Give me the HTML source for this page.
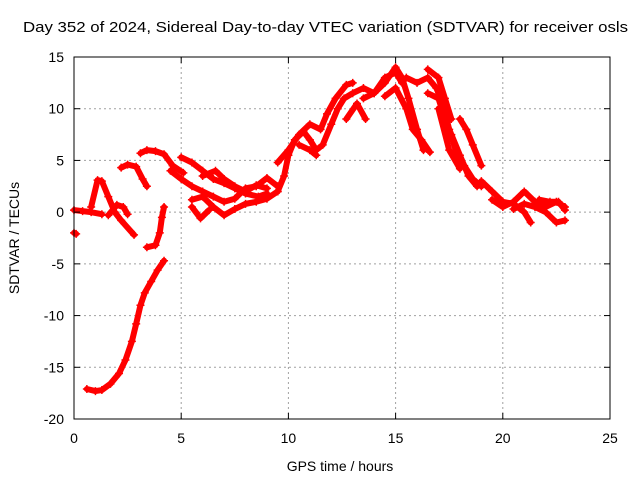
<!DOCTYPE html>
<html><head><meta charset="utf-8"><style>
html,body{margin:0;padding:0;background:#fff}
svg{display:block;font-family:"Liberation Sans",sans-serif}
</style></head><body>
<svg id="chart" width="640" height="480">
<text x="23" y="32" font-size="15" textLength="605" lengthAdjust="spacingAndGlyphs">Day 352 of 2024, Sidereal Day-to-day VTEC variation (SDTVAR) for receiver osls</text>
<text x="340" y="471" font-size="14" text-anchor="middle">GPS time / hours</text>
<text transform="translate(19,238) rotate(-90)" font-size="14" text-anchor="middle">SDTVAR / TECUs</text>
<g id="grid"></g><g id="marks"></g><g id="axes"></g>
</svg>
<script>
const xTicks=[0,5,10,15,20,25];
const yTicks=[15,10,5,0,-5,-10,-15,-20];
const tracks=[
[[0.6,-17.1],[1,-17.3],[1.3,-17.2],[1.7,-16.6],[2.1,-15.6],[2.4,-14.3],[2.7,-12.5],[2.9,-10.8],[3.1,-9],[3.3,-7.8],[3.6,-6.7],[3.9,-5.6],[4.2,-4.7]],
[[0,0.2],[0.4,0.1],[0.8,0],[1.3,-0.2]],
[[0,-2],[0.1,-2.1]],
[[0.8,0.5],[1.1,3.1],[1.3,3],[1.6,1.5],[1.9,0],[2.2,-0.8],[2.8,-2.2]],
[[1.6,-0.3],[2,0.7],[2.3,0.5],[2.5,-0.2]],
[[2.2,4.3],[2.5,4.6],[2.9,4.4],[3.2,3.2],[3.4,2.5]],
[[3.1,5.7],[3.4,6],[3.8,5.9],[4.2,5.6],[4.6,4.5],[5.1,3.8]],
[[3.4,-3.4],[3.8,-3.2],[4,-2],[4.1,-0.5],[4.2,0.5]],
[[5,5.3],[5.5,4.8],[6,4],[6.5,3.2],[7,2.8],[7.5,2.3],[8,1.8],[8.6,1.5],[9,1.8]],
[[4.5,4],[5,3.2],[5.5,2.5],[6,2],[6.5,1.5],[7,1],[7.5,1.3],[8,2.3],[8.5,2.5],[9,3.3],[9.5,2.5]],
[[5.5,1.2],[6,1.5],[6.5,0.5],[7,-0.3],[7.5,0.3],[8,0.8],[8.5,1],[9,1.3],[9.5,2]],
[[5.5,0.5],[5.9,-0.6],[6.3,0.2]],
[[6,3.5],[6.6,4],[7,3.2],[7.5,2.5],[8,2],[8.5,2.6],[9,2.3]],
[[9.5,2],[9.8,3.5],[10,5.5],[10.3,7],[10.7,7.8],[11,7],[11.3,6],[11.6,6.5],[12,8.5],[12.3,10],[12.6,11],[13,11.5],[13.5,12],[14,11.5],[14.5,12.5],[15,14],[15.3,13],[15.6,11],[16,8],[16.3,6]],
[[9.5,4.8],[10,6],[10.5,7.5],[11,8.5],[11.5,8],[11.8,9.5],[12.2,11],[12.7,12.3],[13,12.5]],
[[10.5,6.5],[11,6],[11.3,5.5]],
[[12.7,9],[13.2,10.5],[13.6,9]],
[[13.5,11],[14,11.5],[14.5,13],[15,13.5],[15.3,12.5]],
[[14.5,11.2],[15,12],[15.5,10],[15.8,8],[16.2,7],[16.6,5.8]],
[[15.5,13],[16,12.5],[16.5,13],[16.9,12],[17.2,10.5],[17.5,8],[17.8,6],[18.2,4.5],[18.6,3.2],[19,2.5]],
[[16.5,11.5],[17,11],[17.3,9],[17.6,7.5],[18,5.5],[18.4,3.5],[18.8,2.5]],
[[16.5,13.8],[17,13],[17.3,11],[17.6,9]],
[[17,10],[17.5,6],[18,4.2]],
[[18,9],[18.3,8],[18.6,6.5],[19,4.5]],
[[19,3],[19.5,2],[20,1],[20.5,0.8],[21,0],[21.3,-1]],
[[19.5,1.2],[20,0.5],[20.5,1],[21,2],[21.5,1],[22,0.5],[22.5,1],[22.9,0.5]],
[[20.5,0.3],[21,0.8],[21.5,0.5],[22,0],[22.5,-1],[22.9,-0.8]],
[[21.7,1.2],[22.2,1],[22.6,1],[22.9,0.2]]
];
const NS='http://www.w3.org/2000/svg';
const L=74,R=610,T=57,B=419;
const xs=v=>L+(v-0)/25*(R-L);
const ys=v=>B-(v+20)/35*(B-T);
function mk(tag,attrs,parent){const e=document.createElementNS(NS,tag);for(const k in attrs)e.setAttribute(k,attrs[k]);parent.appendChild(e);return e;}
const grid=document.getElementById('grid'),axes=document.getElementById('axes'),marks=document.getElementById('marks');
xTicks.forEach(t=>{
  const x=xs(t);
  if(t>0&&t<25){const g=mk('line',{x1:x,x2:x,y1:T,y2:B,stroke:'#a0a0a0','stroke-dasharray':'2,3'},grid);
  
  }
  mk('line',{x1:x,x2:x,y1:B,y2:B-6,stroke:'#000'},axes);
  mk('line',{x1:x,x2:x,y1:T,y2:T+6,stroke:'#000'},axes);
  const tx=mk('text',{x:x,y:B+24,'font-size':14,'text-anchor':'middle'},axes);tx.textContent=t;
  
  
});
yTicks.forEach(t=>{
  const y=ys(t);
  if(t<15&&t>-20){const g=mk('line',{x1:L,x2:R,y1:y,y2:y,stroke:'#a0a0a0','stroke-dasharray':'2,3'},grid);
  
  }
  mk('line',{x1:L,x2:L+6,y1:y,y2:y,stroke:'#000'},axes);
  mk('line',{x1:R,x2:R-6,y1:y,y2:y,stroke:'#000'},axes);
  const tx=mk('text',{x:L-10,y:y+5,'font-size':14,'text-anchor':'end'},axes);tx.textContent=t;
  
  
});
const frame=mk('rect',{x:L,y:T,width:R-L,height:B-T,fill:'none',stroke:'#000'},axes);


tracks.forEach((tr,i)=>{
  const g=mk('g',{},marks);
  
  
  mk('polyline',{points:tr.map(p=>xs(p[0])+','+ys(p[1])).join(' '),fill:'none',stroke:'#ff0000','stroke-width':6,'stroke-linejoin':'round','stroke-linecap':'round'},g);
  tr.forEach(p=>{const x=xs(p[0]),y=ys(p[1]);
    mk('path',{d:`M${x-4},${y}H${x+4}M${x},${y-4}V${y+4}`,stroke:'#ff0000','stroke-width':1.5},g);});
});
</script>
</body></html>
